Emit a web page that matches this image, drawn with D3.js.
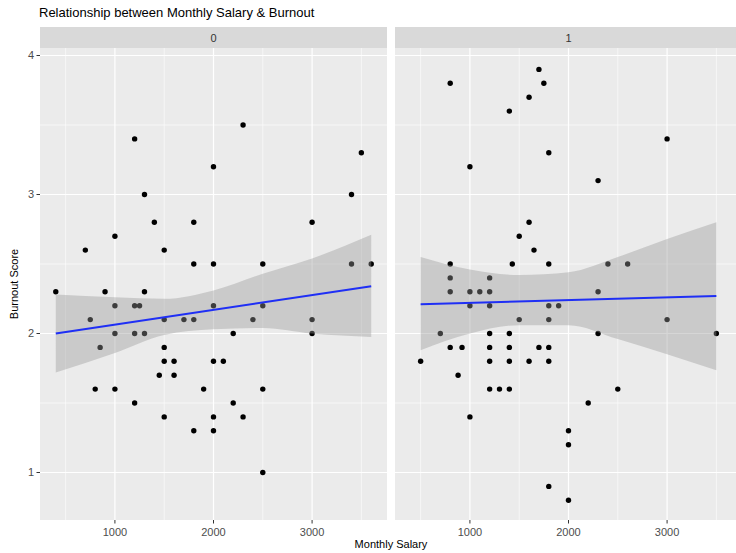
<!DOCTYPE html>
<html>
<head>
<meta charset="utf-8">
<script src="https://cdn.jsdelivr.net/npm/d3@7"></script>
<style>
  body { margin: 0; background: #fff; }
  svg { font-family: "Liberation Sans", Arial, sans-serif; display: block; }
</style>
</head>
<body>
<div id="chart-area"></div>
<script>
// facet labels
const facets = ["0", "1"];

// panel 0 points (salary, burnout score)
const salary0 = [400, 700, 750, 800, 850, 900, 1000, 1000, 1000, 1000,
  1200, 1200, 1250, 1200, 1200, 1300, 1300, 1300, 1400, 1450,
  1500, 1500, 1500, 1500, 1500, 1600, 1600, 1700, 1800, 1800,
  1800, 1800, 1900, 2000, 2000, 2000, 2000, 2000, 2000, 2100,
  2200, 2200, 2300, 2300, 2400, 2500, 2500, 2500, 2500, 3000,
  3000, 3000, 3400, 3400, 3500, 3600];
const burnout0 = [2.3, 2.6, 2.1, 1.6, 1.9, 2.3, 2.7, 2.2, 2.0, 1.6,
  3.4, 2.2, 2.2, 2.0, 1.5, 3.0, 2.3, 2.0, 2.8, 1.7,
  2.6, 2.1, 1.9, 1.8, 1.4, 1.8, 1.7, 2.1, 2.8, 2.5,
  2.1, 1.3, 1.6, 3.2, 2.5, 2.2, 1.8, 1.4, 1.3, 1.8,
  2.0, 1.5, 3.5, 1.4, 2.1, 2.5, 2.2, 1.6, 1.0, 2.8,
  2.1, 2.0, 3.0, 2.5, 3.3, 2.5];

// panel 1 points
const salary1 = [500, 700, 800, 800, 800, 800, 800, 880, 920, 1000,
  1000, 1000, 1000, 1100, 1200, 1200, 1200, 1200, 1200, 1200,
  1200, 1300, 1400, 1430, 1400, 1400, 1400, 1400, 1500, 1500,
  1600, 1600, 1600, 1650, 1700, 1700, 1750, 1800, 1800, 1800,
  1800, 1800, 1800, 1800, 1900, 2000, 2000, 2000, 2200, 2300,
  2300, 2300, 2400, 2500, 2600, 3000, 3000, 3500];
const burnout1 = [1.8, 2.0, 3.8, 2.5, 2.4, 2.3, 1.9, 1.7, 1.9, 3.2,
  2.3, 2.2, 1.4, 2.3, 2.4, 2.3, 2.2, 2.0, 1.9, 1.8,
  1.6, 1.6, 3.6, 2.5, 2.0, 1.9, 1.8, 1.6, 2.7, 2.1,
  3.7, 2.8, 1.8, 2.6, 3.9, 1.9, 3.8, 3.3, 2.5, 2.2,
  2.1, 1.9, 1.8, 0.9, 2.2, 1.3, 1.2, 0.8, 1.5, 3.1,
  2.3, 2.0, 2.5, 1.6, 2.5, 3.4, 2.1, 2.0];

// lm fit with confidence band
const bandX0 = [400, 1000, 1500, 2000, 2500, 3000, 3600];
const bandLo0 = [1.72, 1.86, 1.99, 2.03, 2.04, 2.00, 1.975];
const bandHi0 = [2.28, 2.26, 2.25, 2.31, 2.43, 2.54, 2.71];
const fitX0 = [400, 3600];
const fitY0 = [2.0, 2.34];

const bandX1 = [500, 1000, 1500, 2000, 2500, 3000, 3500];
const bandLo1 = [1.88, 2.00, 2.06, 2.06, 1.96, 1.85, 1.735];
const bandHi1 = [2.55, 2.46, 2.42, 2.44, 2.55, 2.68, 2.80];
const fitX1 = [500, 3500];
const fitY1 = [2.21, 2.27];

const xTicks = [1000, 2000, 3000];
const xMinor = [500, 1500, 2500, 3500];
const yTicks = [1, 2, 3, 4];
const yMinor = [1.5, 2.5, 3.5];

const W = 736, H = 553;
const panelTop = 48, panelBottom = 520;
const stripTop = 27;
const panels = [
  {left: 40, right: 387, label: facets[0], sx: salary0, sy: burnout0,
   bx: bandX0, lo: bandLo0, hi: bandHi0, fx: fitX0, fy: fitY0},
  {left: 395, right: 742, label: facets[1], sx: salary1, sy: burnout1,
   bx: bandX1, lo: bandLo1, hi: bandHi1, fx: fitX1, fy: fitY1}
];

const svg = d3.select("#chart-area")
  .append("svg")
  .attr("width", W)
  .attr("height", H);

const y = d3.scaleLinear().domain([1, 4]).range([472.5, 55.5]);

panels.forEach(p => {
  const x = d3.scaleLinear().domain([240, 3760]).range([p.left, p.right]);
  const g = svg.append("g");

  // strip
  g.append("rect")
    .attr("x", p.left).attr("y", stripTop)
    .attr("width", p.right - p.left).attr("height", panelTop - stripTop)
    .attr("fill", "#D9D9D9");
  g.append("text")
    .attr("x", (p.left + p.right) / 2)
    .attr("y", 42)
    .attr("text-anchor", "middle")
    .style("font-size", "11px")
    .style("fill", "#333")
    .text(p.label);

  // panel background
  g.append("rect")
    .attr("x", p.left).attr("y", panelTop)
    .attr("width", p.right - p.left).attr("height", panelBottom - panelTop)
    .attr("fill", "#EBEBEB");

  // grid
  g.selectAll(".xminor").data(xMinor).enter().append("line")
    .attr("x1", d => x(d)).attr("x2", d => x(d))
    .attr("y1", panelTop).attr("y2", panelBottom)
    .attr("stroke", "#fff").attr("stroke-width", 0.6);
  g.selectAll(".yminor").data(yMinor).enter().append("line")
    .attr("x1", p.left).attr("x2", p.right)
    .attr("y1", d => y(d)).attr("y2", d => y(d))
    .attr("stroke", "#fff").attr("stroke-width", 0.6);
  g.selectAll(".xmajor").data(xTicks).enter().append("line")
    .attr("x1", d => x(d)).attr("x2", d => x(d))
    .attr("y1", panelTop).attr("y2", panelBottom)
    .attr("stroke", "#fff").attr("stroke-width", 1.2);
  g.selectAll(".ymajor").data(yTicks).enter().append("line")
    .attr("x1", p.left).attr("x2", p.right)
    .attr("y1", d => y(d)).attr("y2", d => y(d))
    .attr("stroke", "#fff").attr("stroke-width", 1.2);

  // points
  g.selectAll("circle").data(p.sx).enter().append("circle")
    .attr("cx", d => x(d))
    .attr("cy", (d, i) => y(p.sy[i]))
    .attr("r", 2.7)
    .attr("fill", "#000");

  // confidence band on top of the points
  const band = p.bx.map((v, i) => ({x: v, lo: p.lo[i], hi: p.hi[i]}));
  g.append("path")
    .datum(band)
    .attr("d", d3.area()
      .x(d => x(d.x))
      .y0(d => y(d.lo))
      .y1(d => y(d.hi))
      .curve(d3.curveMonotoneX))
    .attr("fill", "#999999")
    .attr("fill-opacity", 0.4);

  g.append("line")
    .attr("x1", x(p.fx[0])).attr("x2", x(p.fx[1]))
    .attr("y1", y(p.fy[0])).attr("y2", y(p.fy[1]))
    .attr("stroke", "#1F2FF5")
    .attr("stroke-width", 2);

  // x axis ticks
  const xa = svg.append("g");
  xa.selectAll("line").data(xTicks).enter().append("line")
    .attr("x1", d => x(d)).attr("x2", d => x(d))
    .attr("y1", panelBottom).attr("y2", panelBottom + 3.5)
    .attr("stroke", "#333").attr("stroke-width", 1);
  xa.selectAll("text").data(xTicks).enter().append("text")
    .attr("x", d => x(d))
    .attr("y", panelBottom + 16)
    .attr("text-anchor", "middle")
    .style("font-size", "11px")
    .style("fill", "#4D4D4D")
    .text(d => d);
});

// y axis
const ya = svg.append("g");
ya.selectAll("line").data(yTicks).enter().append("line")
  .attr("x1", 36.5).attr("x2", 40)
  .attr("y1", d => y(d)).attr("y2", d => y(d))
  .attr("stroke", "#333").attr("stroke-width", 1);
ya.selectAll("text").data(yTicks).enter().append("text")
  .attr("x", 34)
  .attr("y", d => y(d))
  .attr("dy", "0.35em")
  .attr("text-anchor", "end")
  .style("font-size", "11px")
  .style("fill", "#4D4D4D")
  .text(d => d);

// titles
svg.append("text")
  .attr("x", 39).attr("y", 17)
  .style("font-size", "13px")
  .style("fill", "#000")
  .text("Relationship between Monthly Salary & Burnout");

svg.append("text")
  .attr("x", (40 + 742) / 2).attr("y", 548)
  .attr("text-anchor", "middle")
  .style("font-size", "11px")
  .style("fill", "#000")
  .text("Monthly Salary");

svg.append("text")
  .attr("transform", "rotate(-90)")
  .attr("x", -(panelTop + panelBottom) / 2)
  .attr("y", 18)
  .attr("text-anchor", "middle")
  .style("font-size", "11px")
  .style("fill", "#000")
  .text("Burnout Score");
</script>
</body>
</html>
